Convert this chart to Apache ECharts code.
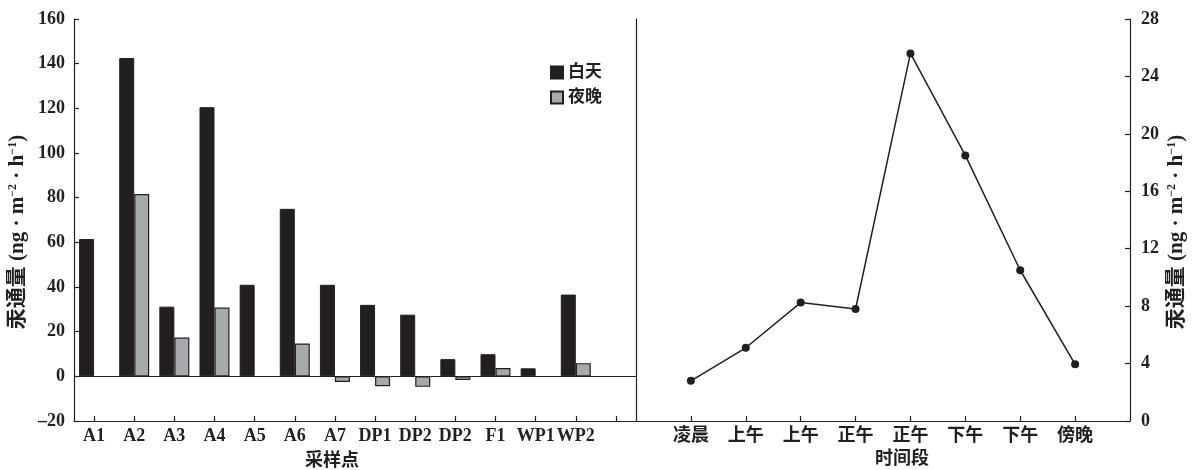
<!DOCTYPE html>
<html>
<head>
<meta charset="utf-8">
<script src="https://cdn.jsdelivr.net/npm/echarts@6/dist/echarts.min.js"></script>
<style>
  html, body { margin: 0; padding: 0; background: #fff; }
  #chart { width: 1196px; height: 470px; }
</style>
</head>
<body>
<div id="chart"></div>
<script>
// Sampling sites (the last slot is an empty spacer category)
const sites = ['A1', 'A2', 'A3', 'A4', 'A5', 'A6', 'A7', 'DP1', 'DP2', 'DP2', 'F1', 'WP1', 'WP2', ''];
// Mercury flux by site, ng·m⁻²·h⁻¹
const dayFlux   = [61.5, 142.5, 31.2, 120.5, 41, 75, 41, 32, 27.6, 7.7, 9.9, 3.6, 36.6];
const nightFlux = [null, 81.6, 17.4, 30.8, null, 14.7, -2.5, -4.4, -4.7, -1.6, 3.7, null, 5.9];

// Time periods and the flux measured in each
const periods = ['凌晨', '上午', '上午', '正午', '正午', '下午', '下午', '傍晚'];
const periodFlux = [2.8, 5.1, 8.25, 7.8, 25.6, 18.5, 10.5, 3.95];

// Axis tick settings
const leftTicks = { min: -20, max: 160, interval: 20 };
const rightTicks = { min: 0, max: 28, interval: 4 };

const INK = '#231f20';
const GREY = '#a7a9ac';
const FONT = "'Liberation Serif', 'Noto Sans CJK SC', serif";

const labelStyle = { color: INK, fontFamily: FONT, fontWeight: 'bold', fontSize: 18 };
const axisLine = { show: true, onZero: false, lineStyle: { color: INK, width: 1.2 } };
const tickStyle = { color: INK, width: 1.2 };

const fluxName = '汞通量 (ng · m{sup|−2} · h{sup|−1})';
const nameStyle = {
  color: INK, fontFamily: FONT, fontWeight: 'bold', fontSize: 21,
  padding: [0, 24, 0, 0],
  rich: {
    sup: { fontFamily: FONT, fontWeight: 'bold', fontSize: 12, color: INK, verticalAlign: 'top' }
  }
};

// Negative ticks use a typographic minus
function numLabel(v) { return v < 0 ? '–' + Math.abs(v) : String(v); }

// Period axis: blank slots at both ends keep the points off the frame
const periodAxis = [''].concat(periods, ['']);

const option = {
  animation: false,
  backgroundColor: '#fff',
  legend: {
    orient: 'vertical',
    left: 545,
    top: 59,
    itemWidth: 12,
    itemHeight: 12,
    itemGap: 8,
    icon: 'rect',
    textStyle: { color: INK, fontFamily: FONT, fontWeight: 'bold', fontSize: 17 },
    data: ['白天', '夜晚']
  },
  grid: [
    { left: 74, top: 19, width: 562, height: 402, outerBoundsMode: 'none', containLabel: false },
    { left: 636, top: 19, width: 494, height: 402, outerBoundsMode: 'none', containLabel: false }
  ],
  xAxis: [
    {
      gridIndex: 0,
      type: 'category',
      data: sites,
      boundaryGap: true,
      axisLine: axisLine,
      axisTick: { show: true, inside: true, alignWithLabel: true, length: 5, lineStyle: tickStyle },
      axisLabel: Object.assign({ margin: 6, interval: 0 }, labelStyle),
      name: '采样点',
      nameLocation: 'middle',
      nameGap: 31,
      nameTextStyle: Object.assign({}, labelStyle, { padding: [0, 46, 0, 0] })
    },
    {
      gridIndex: 1,
      type: 'category',
      data: periodAxis,
      boundaryGap: false,
      axisLine: axisLine,
      axisTick: {
        show: true, inside: true, length: 5, lineStyle: tickStyle,
        interval: function (i) { return i > 0 && i < periodAxis.length - 1; }
      },
      axisLabel: Object.assign({ margin: 6, interval: 0 }, labelStyle),
      name: '时间段',
      nameLocation: 'middle',
      nameGap: 29,
      nameTextStyle: Object.assign({}, labelStyle, { padding: [0, 0, 0, 38] })
    }
  ],
  yAxis: [
    {
      gridIndex: 0,
      type: 'value',
      min: leftTicks.min,
      max: leftTicks.max,
      interval: leftTicks.interval,
      axisLine: axisLine,
      axisTick: { show: true, inside: true, length: 5, lineStyle: tickStyle },
      splitLine: { show: false },
      axisLabel: Object.assign({ margin: 9, formatter: numLabel }, labelStyle),
      name: fluxName,
      nameLocation: 'middle',
      nameRotate: 90,
      nameGap: 46,
      nameTextStyle: nameStyle
    },
    {
      // frame line dividing the two panels
      gridIndex: 0,
      type: 'value',
      position: 'right',
      min: leftTicks.min,
      max: leftTicks.max,
      axisLine: axisLine,
      axisTick: { show: false },
      axisLabel: { show: false },
      splitLine: { show: false }
    },
    {
      gridIndex: 1,
      type: 'value',
      position: 'right',
      min: rightTicks.min,
      max: rightTicks.max,
      interval: rightTicks.interval,
      axisLine: axisLine,
      axisTick: { show: true, inside: true, length: 5, lineStyle: tickStyle },
      splitLine: { show: false },
      axisLabel: Object.assign({ margin: 11 }, labelStyle),
      name: fluxName,
      nameLocation: 'middle',
      nameRotate: 90,
      nameGap: 36,
      nameTextStyle: nameStyle
    }
  ],
  series: [
    {
      name: '白天',
      type: 'bar',
      xAxisIndex: 0,
      yAxisIndex: 0,
      data: dayFlux,
      barWidth: 15,
      barGap: '0%',
      itemStyle: { color: INK, borderColor: INK, borderWidth: 1 }
    },
    {
      name: '夜晚',
      type: 'bar',
      xAxisIndex: 0,
      yAxisIndex: 0,
      data: nightFlux,
      barWidth: 15,
      barGap: '0%',
      itemStyle: { color: GREY, borderColor: INK, borderWidth: 1.2 },
      markLine: {
        silent: true,
        symbol: 'none',
        label: { show: false },
        lineStyle: { color: INK, type: 'solid', width: 1.2 },
        data: [{ yAxis: 0 }]
      }
    },
    {
      name: '时间段通量',
      type: 'line',
      xAxisIndex: 1,
      yAxisIndex: 2,
      data: periodFlux.map(function (v, i) { return [i + 1, v]; }),
      symbol: 'circle',
      symbolSize: 8,
      lineStyle: { color: INK, width: 1.5 },
      itemStyle: { color: INK }
    }
  ]
};

const chart = echarts.init(document.getElementById('chart'), null, { renderer: 'canvas' });
chart.setOption(option);
</script>
</body>
</html>
